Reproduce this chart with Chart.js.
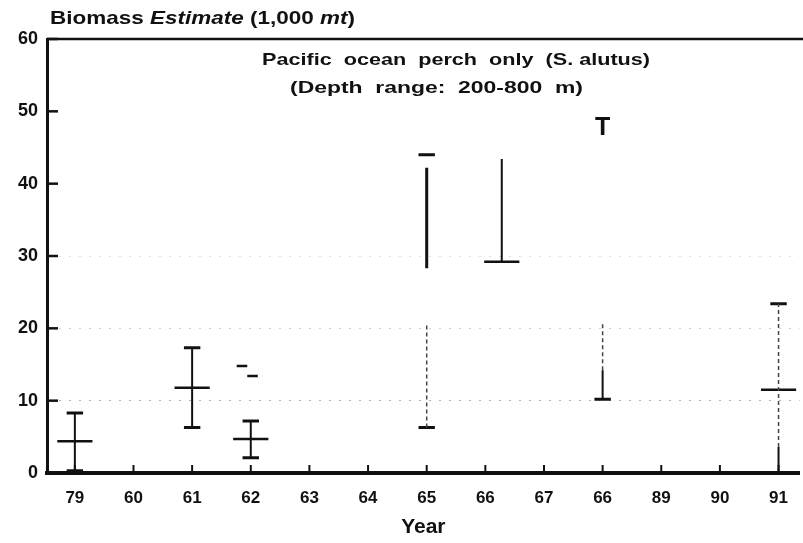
<!DOCTYPE html>
<html>
<head>
<meta charset="utf-8">
<script src="https://cdn.jsdelivr.net/npm/chart.js@4"></script>
<style>
  html, body { margin: 0; padding: 0; background: #fff; }
  #wrap { width: 803px; height: 543px; }
</style>
</head>
<body>
<div id="wrap"><canvas id="biomassChart" width="803" height="543"></canvas></div>
<script>
// Year labels along the x axis (as printed)
const years = ['79', '60', '61', '62', '63', '64', '65', '66', '67', '66', '89', '90', '91'];

// Whisker segments: x position (year index), from / to value (1,000 mt), faint = dashed part
const whiskerPos   = [0,   2,    3,   6,    6,    7.28, 9,    9,    12,  12];
const whiskerFrom  = [0.3, 6.3,  2.1, 28.3, 6.3,  29.2, 10.2, 14.2, 0,   3.6];
const whiskerTo    = [8.3, 17.3, 7.2, 42.2, 20.6, 43.4, 14.2, 20.7, 3.6, 23.4];
const whiskerFaint = [false, false, false, false, true, false, false, true, false, true];

// Caps at the ends of the whiskers
const capPos   = [0,   0,   2,   2,    3,   3,   6,   6,    9,    12];
const capValue = [0.3, 8.3, 6.3, 17.3, 2.1, 7.2, 6.3, 44.0, 10.2, 23.4];

// Mean estimates (wide bars)
const meanPos   = [0,   2,    3,   7.28, 12];
const meanValue = [4.4, 11.8, 4.7, 29.2, 11.5];

// Stray short dashes near 62
const strayPos   = [2.85, 3.03];
const strayValue = [14.8, 13.4];

// Lone "T" mark above 66
const markPos = 9;
const markValue = 47.7;

const INK = '#111';
const FONT = '"Liberation Sans", Arial, sans-serif';
const CAP_HALF = 0.14;
const MEAN_HALF = 0.3;
const STRAY_HALF = 0.09;

function segment(x1, y1, x2, y2, width, dash, color) {
    return {
        type: 'line',
        data: [{ x: x1, y: y1 }, { x: x2, y: y2 }],
        borderColor: color || INK,
        borderWidth: width,
        borderDash: dash || [],
        pointRadius: 0,
        fill: false
    };
}

const datasets = [];
whiskerPos.forEach((p, i) => {
    if (whiskerFaint[i]) {
        datasets.push(segment(p, whiskerFrom[i], p, whiskerTo[i], 1.5, [4, 3], '#444'));
    } else {
        datasets.push(segment(p, whiskerFrom[i], p, whiskerTo[i], i === 3 ? 3 : 2));
    }
});
capPos.forEach((p, i) => datasets.push(segment(p - CAP_HALF, capValue[i], p + CAP_HALF, capValue[i], 3)));
meanPos.forEach((p, i) => datasets.push(segment(p - MEAN_HALF, meanValue[i], p + MEAN_HALF, meanValue[i], 2.5)));
strayPos.forEach((p, i) => datasets.push(segment(p - STRAY_HALF, strayValue[i], p + STRAY_HALF, strayValue[i], 2.5)));

// draw a row of text pieces [text, italic] stretched sideways to a given width
function stretchedText(ctx, parts, x, y, size, width) {
    let natural = 0;
    parts.forEach(([s, it]) => {
        ctx.font = (it ? 'italic ' : '') + 'bold ' + size + 'px ' + FONT;
        natural += ctx.measureText(s).width;
    });
    ctx.save();
    ctx.translate(x, y);
    ctx.scale(width / natural, 1);
    let tx = 0;
    parts.forEach(([s, it]) => {
        ctx.font = (it ? 'italic ' : '') + 'bold ' + size + 'px ' + FONT;
        ctx.fillText(s, tx, 0);
        tx += ctx.measureText(s).width;
    });
    ctx.restore();
}

// Frame, inward ticks and texts
const decorPlugin = {
    id: 'decor',
    afterDraw(chart) {
        const ctx = chart.ctx;
        const area = chart.chartArea;
        const xs = chart.scales.x;
        const ys = chart.scales.y;
        ctx.save();
        ctx.strokeStyle = INK;
        ctx.fillStyle = INK;

        // top frame line
        ctx.lineWidth = 2.5;
        ctx.beginPath();
        ctx.moveTo(area.left, area.top);
        ctx.lineTo(chart.width, area.top);
        ctx.stroke();

        // y ticks pointing inward
        ctx.lineWidth = 2.5;
        ys.ticks.forEach(t => {
            const y = ys.getPixelForValue(t.value);
            ctx.beginPath();
            ctx.moveTo(area.left, y);
            ctx.lineTo(area.left + 11, y);
            ctx.stroke();
        });

        // x ticks pointing inward
        ctx.lineWidth = 2;
        xs.ticks.forEach(t => {
            const x = xs.getPixelForValue(t.value);
            ctx.beginPath();
            ctx.moveTo(x, area.bottom);
            ctx.lineTo(x, area.bottom - 8);
            ctx.stroke();
        });

        ctx.textBaseline = 'middle';
        ctx.textAlign = 'left';

        // axis title above the frame
        stretchedText(ctx, [['Biomass ', false], ['Estimate', true], [' (1,000 ', false], ['mt', true], [')', false]],
            50, 19, 19, 305);

        // annotation inside the plot
        stretchedText(ctx, [['Pacific  ocean  perch  only  ', false], ['(S. alutus)', false]], 262, 60, 16.5, 388);
        stretchedText(ctx, [['(Depth  range:  200-800  m)', false]], 290, 88, 16.5, 293);

        // lone T mark
        ctx.textAlign = 'center';
        ctx.font = 'bold 25px ' + FONT;
        ctx.fillText('T', xs.getPixelForValue(markPos), ys.getPixelForValue(markValue));
        ctx.restore();
    }
};

new Chart(document.getElementById('biomassChart'), {
    type: 'scatter',
    data: { datasets: datasets },
    options: {
        responsive: false,
        animation: false,
        events: [],
        layout: { padding: { top: 39, right: 0, left: 0, bottom: 0 } },
        plugins: {
            legend: { display: false },
            tooltip: { enabled: false }
        },
        scales: {
            x: {
                type: 'linear',
                min: -0.475,
                max: 12.36,
                afterBuildTicks: scale => { scale.ticks = years.map((_, i) => ({ value: i })); },
                afterFit: scale => { scale.height = 70; },
                ticks: {
                    callback: v => years[v],
                    color: INK,
                    padding: 15,
                    maxRotation: 0,
                    autoSkip: false,
                    font: { family: FONT, size: 17, weight: 'bold' }
                },
                grid: { display: false, drawTicks: false },
                border: { color: INK, width: 4 },
                title: {
                    display: true,
                    text: 'Year',
                    color: INK,
                    padding: { top: 4, bottom: 3 },
                    font: { family: FONT, size: 21, weight: 'bold' }
                }
            },
            y: {
                min: 0,
                max: 60,
                afterFit: scale => { scale.width = 47; },
                ticks: {
                    stepSize: 10,
                    color: INK,
                    padding: 9,
                    font: { family: FONT, size: 18, weight: 'bold' }
                },
                grid: {
                    drawTicks: false,
                    color: ctx => {
                        const v = ctx.tick && ctx.tick.value;
                        if (v === 10) return 'rgba(0,0,0,0.3)';
                        if (v === 20) return 'rgba(0,0,0,0.18)';
                        if (v === 30) return 'rgba(0,0,0,0.12)';
                        return 'rgba(0,0,0,0)';
                    },
                    lineWidth: 1
                },
                border: { color: INK, width: 3, dash: [2, 8] }
            }
        }
    },
    plugins: [decorPlugin]
});
</script>
</body>
</html>
